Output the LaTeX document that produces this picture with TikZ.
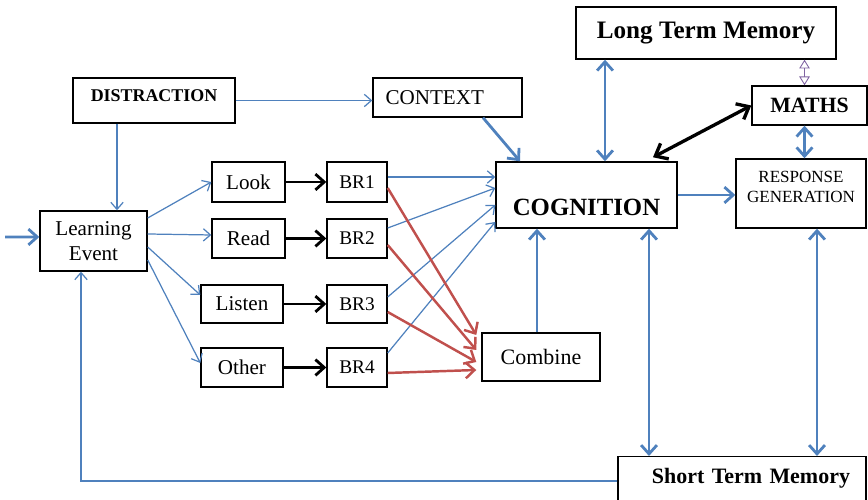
\documentclass[tikz,border=0pt]{standalone}
\usepackage{fontspec}
\setmainfont{Liberation Serif}
\definecolor{flowBlue}{RGB}{79,129,189}
\definecolor{mergeRed}{RGB}{192,80,77}
\definecolor{linkPurple}{RGB}{128,100,162}
\usetikzlibrary{arrows.meta}

\begin{document}
\begin{tikzpicture}[
    every node/.style={font=\fontsize{12}{14.2}\selectfont, align=center, inner sep=2pt},
    box/.style={draw, line width=0.8pt, fill=white},
    thinflow/.style={-{Straight Barb[length=4pt,width=7pt]}, flowBlue, line width=0.7pt},
    flow/.style={-{Straight Barb[length=5pt,width=9pt]}, flowBlue, line width=1.6pt},
    twoway/.style={{Straight Barb[length=5pt,width=9pt]}-{Straight Barb[length=5pt,width=9pt]},
      flowBlue, line width=1.6pt},
    feed/.style={-{Straight Barb[length=5pt,width=9pt]}, black, line width=1.6pt},
    merge/.style={-{Straight Barb[length=5pt,width=9pt]}, mergeRed, line width=1.4pt}
  ]
    \useasboundingbox (0,0) rectangle (17.36,10);
    \clip (0,0) rectangle (17.36,10);
    % Memory and control boxes
    \node[box, minimum width=5.2cm, minimum height=1.04cm,
      font=\fontsize{14.3}{16}\selectfont\bfseries] (ltm) at (14.12,9.34) {Long Term Memory};
    \node[box, minimum width=3.24cm, text height=0.41cm, text depth=0.35cm,
      font=\fontsize{10.2}{12}\selectfont\bfseries] (dist) at (3.08,7.99) {DISTRACTION};
    \node[box, text width=2.48cm, inner xsep=0.25cm, align=left, minimum height=0.78cm] (ctx) at (8.95,8.05) {CONTEXT};
    \node[box, minimum width=2.3cm, minimum height=0.78cm,
      font=\fontsize{12.4}{14}\selectfont\bfseries] (maths) at (16.19,7.89) {MATHS};
    \node[box, minimum width=3.62cm, text height=1.0cm, text depth=0.18cm,
      font=\fontsize{14.1}{16}\selectfont\bfseries] (cog) at (11.73,6.1) {COGNITION};
    \node[box, minimum width=2.6cm, minimum height=1.38cm,
      font=\fontsize{9.7}{11.3}\selectfont] (resp) at (16.02,6.13) {RESPONSE\\GENERATION\\[-0.12cm]};
    \node[box, minimum width=2.14cm, minimum height=1.2cm] (le) at (1.87,5.18) {Learning\\Event};
    % Senses and their BR boxes
    \node[box, minimum width=1.46cm, minimum height=0.8cm] (look) at (4.97,6.36) {Look};
    \node[box, minimum width=1.46cm, minimum height=0.78cm] (read) at (4.97,5.23) {Read};
    \node[box, minimum width=1.64cm, minimum height=0.76cm] (listen) at (4.84,3.92) {Listen};
    \node[box, minimum width=1.64cm, minimum height=0.78cm] (other) at (4.84,2.65) {Other};
    \node[box, minimum width=1.2cm, minimum height=0.8cm, font=\fontsize{11}{13}\selectfont] (br1) at (7.14,6.36) {BR1};
    \node[box, minimum width=1.2cm, minimum height=0.78cm, font=\fontsize{11}{13}\selectfont] (br2) at (7.14,5.23) {BR2};
    \node[box, minimum width=1.2cm, minimum height=0.76cm, font=\fontsize{11}{13}\selectfont] (br3) at (7.14,3.92) {BR3};
    \node[box, minimum width=1.2cm, minimum height=0.78cm, font=\fontsize{11}{13}\selectfont] (br4) at (7.14,2.65) {BR4};
    \node[box, minimum width=2.36cm, minimum height=0.96cm, font=\fontsize{12.5}{14}\selectfont] (comb) at (10.82,2.86) {Combine};
    % STM runs off the bottom edge
    \node[box, anchor=north, text width=4.32cm, inner xsep=0.32cm, align=right,
      text height=0.47cm, text depth=0.6cm,
      font=\fontsize{12.5}{14}\selectfont\bfseries] (stm) at (14.84,0.88) {Short Term Memory};
    % Input side
    \coordinate (in) at (0.1,5.26);
    \draw[flow] (in) -- ([yshift=0.08cm]le.west);
    \draw[thinflow] ([xshift=0.47cm]le.north |- dist.south) -- ([xshift=0.47cm]le.north);
    \draw[thinflow] (dist.east) -- (dist.east -| ctx.west);
    \draw[flow] ([xshift=0.71cm]ctx.south) -- ([xshift=-1.33cm]cog.north);
    \draw[thinflow] ([yshift=0.46cm]le.east) -- (look.west);
    \draw[thinflow] ([yshift=0.14cm]le.east) -- ([yshift=0.07cm]read.west);
    \draw[thinflow] ([yshift=-0.12cm]le.east) -- ([yshift=0.18cm]listen.west);
    \draw[thinflow] ([yshift=-0.38cm]le.east) -- ([yshift=0.09cm]other.west);
    \draw[feed] (look.east) -- (br1.west);
    \draw[feed] (read.east) -- (br2.west);
    \draw[feed] (listen.east) -- (br3.west);
    \draw[feed] (other.east) -- (br4.west);
    % BR to cognition
    \draw[thinflow] ([yshift=0.1cm]br1.east) -- ([yshift=0.36cm]cog.west);
    \draw[thinflow] ([yshift=0.21cm]br2.east) -- ([yshift=0.14cm]cog.west);
    \draw[thinflow] ([yshift=0.14cm]br3.east) -- ([yshift=-0.2cm]cog.west);
    \draw[thinflow] ([yshift=0.29cm]br4.east) -- ([yshift=-0.54cm]cog.west);
    % BR to combine
    \draw[merge] ([yshift=-0.12cm]br1.east) -- ([xshift=-0.1cm,yshift=0.44cm]comb.west);
    \draw[merge] ([yshift=-0.13cm]br2.east) -- ([xshift=-0.1cm,yshift=0.14cm]comb.west);
    \draw[merge] ([yshift=-0.16cm]br3.east) -- ([xshift=-0.1cm,yshift=-0.1cm]comb.west);
    \draw[merge] ([yshift=-0.11cm]br4.east) -- ([xshift=-0.1cm,yshift=-0.26cm]comb.west);
    \draw[flow] ([xshift=-0.08cm]comb.north) -- ([xshift=-0.08cm]comb.north |- cog.south);
    % Cognition, memory and response
    \draw[flow] (cog.east) -- (cog.east -| resp.west);
    \draw[twoway] ([xshift=0.37cm]cog.north) -- ([xshift=0.37cm]cog.north |- ltm.south);
    \draw[{Straight Barb[length=6pt,width=10pt]}-{Straight Barb[length=6pt,width=10pt]}, line width=1.9pt]
      ([xshift=1.33cm,yshift=0.08cm]cog.north) -- (maths.west);
    \draw[twoway] ([xshift=-0.1cm]maths.south) -- ([xshift=-0.1cm]maths.south |- resp.north);
    \draw[{Triangle[open,length=5pt,width=6pt]}-{Triangle[open,length=5pt,width=6pt]}, linkPurple, line width=0.5pt]
      ([xshift=-0.1cm]maths.north) -- ([xshift=-0.1cm]maths.north |- ltm.south);
    \draw[twoway] ([xshift=1.25cm]cog.south) -- ([xshift=1.25cm]cog.south |- stm.north);
    \draw[twoway] ([xshift=0.32cm]resp.south) -- ([xshift=0.32cm]resp.south |- stm.north);
    % Feedback to the learning event
    \draw[thinflow] ([yshift=-0.5cm]stm.north west) -| ([xshift=-0.25cm]le.south);
\end{tikzpicture}
\end{document}
